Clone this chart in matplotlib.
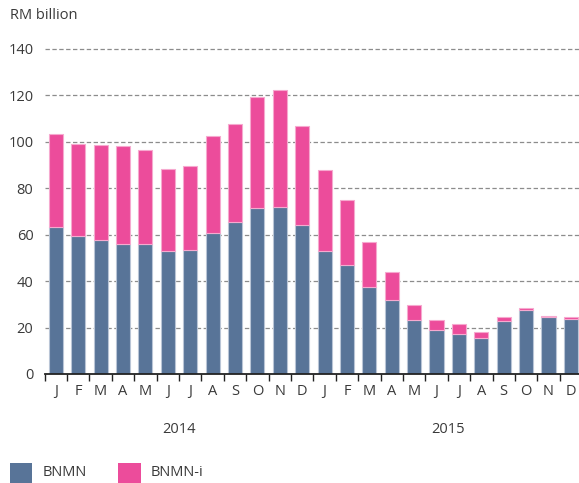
import matplotlib

matplotlib.use("Agg")

import matplotlib.pyplot as plt
import numpy as np
from matplotlib.patches import Rectangle

plt.rcParams["font.family"] = ["Open Sans", "DejaVu Sans"]

months = ["J", "F", "M", "A", "M", "J", "J", "A", "S", "O", "N", "D"] * 2
years = ["2014", "2015"]
bnmn = [63.5, 59.6, 57.9, 56.2, 56.2, 52.9, 53.6, 60.9, 65.4, 71.4, 72.0, 64.2,
        52.9, 47.0, 37.4, 32.0, 23.4, 19.0, 17.4, 15.4, 23.0, 27.7, 24.4, 23.8]
total = [103.3, 99.0, 98.5, 98.4, 96.4, 88.1, 89.8, 102.6, 107.6, 119.5, 122.3, 106.9,
         87.9, 74.9, 56.8, 43.8, 29.6, 23.3, 21.6, 18.2, 24.7, 28.6, 25.0, 24.4]
bnmn_i = [t - b for t, b in zip(total, bnmn)]

BLUE = "#587498"
PINK = "#EC4C9B"
TEXT = "#3a3a3a"

fig = plt.figure(figsize=(5.79, 4.83), dpi=100)
ax = fig.add_axes([0.077, 0.2257, 0.923, 0.6729])

x = np.arange(len(months))
ax.bar(x, bnmn, width=0.63, color=BLUE, edgecolor="#b9c5d6", linewidth=0.8, zorder=3)
ax.bar(x, bnmn_i, bottom=bnmn, width=0.63, color=PINK, edgecolor="#f6a9cf",
       linewidth=0.8, zorder=3)

ax.set_xlim(-0.5, 23.36)
ax.set_ylim(0, 140)
ax.set_yticks(np.arange(0, 141, 20))
for y in np.arange(20, 141, 20):
    ax.axhline(y, color="#8c8c8c", linestyle=(0, (3.5, 2)), linewidth=0.9,
               zorder=1, clip_on=False)

ax.set_xticks(np.arange(-0.5, 23, 1.0))
ax.set_xticklabels([])
ax.set_xticks(x, minor=True)
ax.set_xticklabels(months, minor=True)
ax.tick_params(axis="x", which="major", direction="out", length=5, width=1.0,
               color="#222222")
ax.tick_params(axis="x", which="minor", length=0, pad=7, labelsize=10.5,
               labelcolor=TEXT)
ax.tick_params(axis="y", length=0, pad=8, labelsize=10.5, labelcolor=TEXT)

for side in ["top", "right", "left"]:
    ax.spines[side].set_visible(False)
ax.spines["bottom"].set_color("#222222")
ax.spines["bottom"].set_linewidth(1.3)
ax.spines["bottom"].set_zorder(4)

for i, year in enumerate(years):
    ax.text(5.5 + 12 * i, -0.17, year, transform=ax.get_xaxis_transform(),
            ha="center", va="center", fontsize=10.5, color=TEXT)

fig.text(0.017, 0.967, "RM billion", ha="left", va="center", fontsize=10.5,
         color=TEXT)

legend_items = [("BNMN", BLUE, 0.017), ("BNMN-i", PINK, 0.204)]
for label, colour, left in legend_items:
    fig.patches.append(Rectangle((left, 0.0), 0.039, 0.042, transform=fig.transFigure,
                                 facecolor=colour, edgecolor="none"))
    fig.text(left + 0.056, 0.022, label, ha="left", va="center", fontsize=10.5,
             color=TEXT)

fig.savefig("out.png", dpi=100, facecolor="white")
